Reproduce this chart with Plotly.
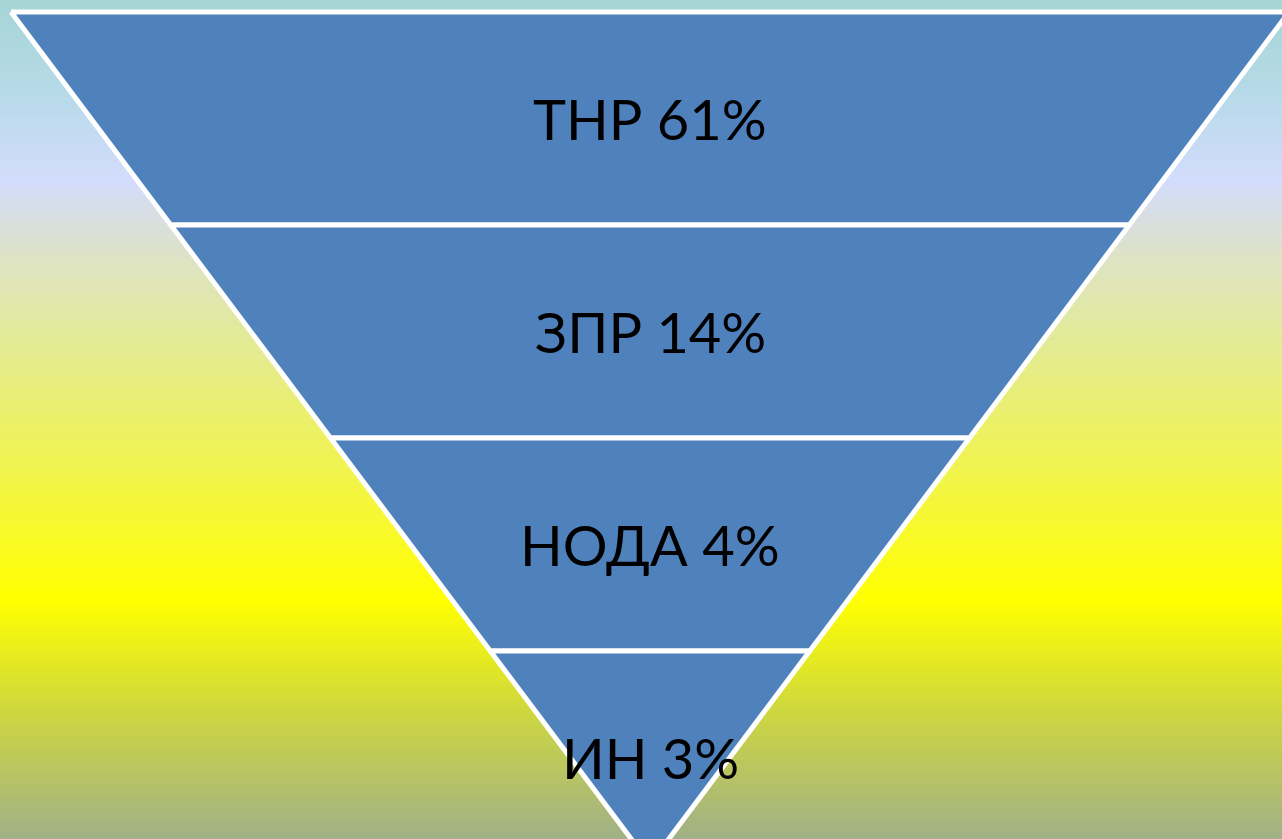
import numpy as np
import plotly.graph_objects as go

# ---- data ----
categories = ["ТНР", "ЗПР", "НОДА", "ИН"]
percent_values = [61, 14, 4, 3]
labels = [f"{c} {v}%" for c, v in zip(categories, percent_values)]

# ---- styling ----
fill_color = "#4f81bd"
edge_color = "white"
slope = 0.75           # half-width per layer unit
n_layers = len(categories)

# background gradient stops (pixel-fraction from top, colour)
bg_stops = [
    (0.00, "#a6d5d6"),
    (0.11, "#b6dae8"),
    (0.215, "#d3dcfc"),
    (0.30, "#dde2c8"),
    (0.38, "#e1e9a2"),
    (0.55, "#f0f352"),
    (0.715, "#ffff00"),
    (0.85, "#cdd640"),
    (1.00, "#a0b088"),
]

W, H = 1282, 839
px_per_layer = 213.0
top_px = 12.0
center_px = 650.0

x_range = [(0 - center_px) / px_per_layer, (W - center_px) / px_per_layer]
y_range = [(H - top_px) / px_per_layer, (0 - top_px) / px_per_layer]

fig = go.Figure()

# background gradient as heatmap
ys = np.linspace(y_range[1], y_range[0], 200)
zfrac = (ys - y_range[1]) / (y_range[0] - y_range[1])
fig.add_trace(go.Heatmap(
    x=[x_range[0] - 0.1, x_range[1] + 0.1],
    y=ys,
    z=[[v, v] for v in zfrac],
    colorscale=[[p, c] for p, c in bg_stops],
    zmin=0, zmax=1, zsmooth="best", showscale=False, hoverinfo="skip",
))

# funnel layers
for i, lab in enumerate(labels):
    top, bot = i, i + 1
    wt = slope * (n_layers - top)
    wb = slope * (n_layers - bot)
    fig.add_trace(go.Scatter(
        x=[-wt, wt, wb, -wb, -wt],
        y=[top, top, bot, bot, top],
        fill="toself", fillcolor=fill_color,
        mode="lines", line=dict(color=edge_color, width=5),
        hoverinfo="skip", showlegend=False,
    ))
    fig.add_annotation(
        x=0, y=i + 0.5, text=lab, showarrow=False,
        font=dict(family="Lato, Open Sans, sans-serif", size=56, color="black"),
        xanchor="center", yanchor="middle",
    )

fig.update_xaxes(range=x_range, visible=False, fixedrange=True)
fig.update_yaxes(range=y_range, visible=False, fixedrange=True)
fig.update_layout(
    width=W, height=H, autosize=False,
    margin=dict(l=0, r=0, t=0, b=0),
    paper_bgcolor="white", plot_bgcolor="white",
    showlegend=False,
)

fig.write_html(
    "out.html",
    config={"displayModeBar": False},
    post_script="document.body.style.margin='0px';document.body.style.overflow='hidden';",
)
